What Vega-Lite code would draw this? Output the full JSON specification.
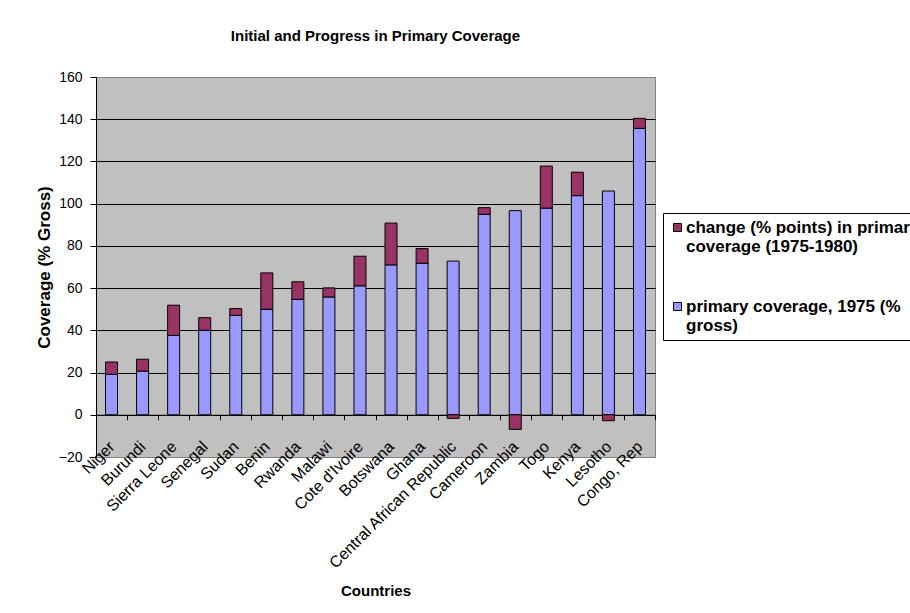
{
  "$schema": "https://vega.github.io/schema/vega-lite/v6.json",
  "autosize": {"type": "none"},
  "width": 559,
  "height": 380,
  "padding": {"left": 96, "top": 77, "right": 255, "bottom": 156},
  "background": "white",
  "title": {
    "text": "Initial and Progress in Primary Coverage",
    "font": "Liberation Sans",
    "fontSize": 15,
    "fontWeight": "bold",
    "color": "black",
    "anchor": "middle",
    "offset": 26
  },
  "data": {
    "values": [
      {"Country": "Niger", "Primary1975": 19.2, "Change": 5.8},
      {"Country": "Burundi", "Primary1975": 20.7, "Change": 5.6},
      {"Country": "Sierra Leone", "Primary1975": 37.6, "Change": 14.3},
      {"Country": "Senegal", "Primary1975": 40.0, "Change": 6.0},
      {"Country": "Sudan", "Primary1975": 47.1, "Change": 3.2},
      {"Country": "Benin", "Primary1975": 50.0, "Change": 17.2},
      {"Country": "Rwanda", "Primary1975": 54.7, "Change": 8.3},
      {"Country": "Malawi", "Primary1975": 55.8, "Change": 4.3},
      {"Country": "Cote d'Ivoire", "Primary1975": 61.1, "Change": 14.0},
      {"Country": "Botswana", "Primary1975": 71.0, "Change": 19.8},
      {"Country": "Ghana", "Primary1975": 71.8, "Change": 6.9},
      {"Country": "Central African Republic", "Primary1975": 72.8, "Change": -1.7},
      {"Country": "Cameroon", "Primary1975": 95.0, "Change": 3.1},
      {"Country": "Zambia", "Primary1975": 96.7, "Change": -6.9},
      {"Country": "Togo", "Primary1975": 97.9, "Change": 19.9},
      {"Country": "Kenya", "Primary1975": 103.8, "Change": 11.1},
      {"Country": "Lesotho", "Primary1975": 106.0, "Change": -2.8},
      {"Country": "Congo, Rep", "Primary1975": 135.7, "Change": 4.7}
    ]
  },
  "transform": [
    {"fold": ["Primary1975", "Change"], "as": ["Series", "Coverage"]}
  ],
  "mark": {"type": "bar", "size": 12, "stroke": "black", "strokeWidth": 1, "opacity": 1},
  "encoding": {
    "x": {
      "field": "Country",
      "type": "nominal",
      "sort": null,
      "scale": {"paddingInner": 0, "paddingOuter": 0},
      "axis": {
        "offset": -42.22,
        "domain": true,
        "domainColor": "black",
        "domainWidth": 1,
        "ticks": true,
        "tickBand": "extent",
        "tickColor": "black",
        "tickSize": 5,
        "grid": false,
        "labelAngle": -45,
        "labelAlign": "right",
        "labelBaseline": "middle",
        "labelPadding": 24,
        "labelFont": "Liberation Sans",
        "labelFontSize": 16,
        "labelColor": "black",
        "labelLimit": 190,
        "title": "Countries",
        "titleFont": "Liberation Sans",
        "titleFontSize": 15,
        "titleFontWeight": "bold",
        "titleColor": "black",
        "titlePadding": 12
      }
    },
    "y": {
      "field": "Coverage",
      "type": "quantitative",
      "stack": "zero",
      "scale": {"domain": [-20, 160], "nice": false, "zero": false},
      "axis": {
        "values": [-20, 0, 20, 40, 60, 80, 100, 120, 140, 160],
        "domain": true,
        "domainColor": "black",
        "ticks": true,
        "tickColor": "black",
        "tickSize": 6,
        "grid": true,
        "gridColor": {
          "condition": {"test": "datum.value == 160 || datum.value == -20", "value": "#808080"},
          "value": "black"
        },
        "gridWidth": 1,
        "labelFont": "Liberation Sans",
        "labelFontSize": 14,
        "labelColor": "black",
        "labelPadding": 8,
        "title": "Coverage (% Gross)",
        "titleFont": "Liberation Sans",
        "titleFontSize": 17,
        "titleFontWeight": "bold",
        "titleColor": "black",
        "titlePadding": 5
      }
    },
    "color": {
      "field": "Series",
      "type": "nominal",
      "scale": {"domain": ["Change", "Primary1975"], "range": ["#993366", "#9999FF"]},
      "legend": {
        "title": null,
        "orient": "none",
        "legendX": 567,
        "legendY": 136,
        "direction": "vertical",
        "padding": 6,
        "strokeColor": "black",
        "fillColor": "white",
        "symbolType": "square",
        "symbolSize": 64,
        "symbolStrokeColor": "black",
        "symbolStrokeWidth": 1,
        "symbolOpacity": 1,
        "labelFont": "Liberation Sans",
        "labelFontSize": 17,
        "labelFontWeight": "bold",
        "labelColor": "black",
        "labelLimit": 400,
        "labelOffset": 0,
        "rowPadding": 42,
        "labelExpr": "datum.value == 'Change' ? ['change (% points) in primary', 'coverage (1975-1980)'] : ['primary coverage, 1975 (%', 'gross)']"
      }
    },
    "order": {"field": "Series", "sort": "descending"}
  },
  "config": {
    "view": {"fill": "#C0C0C0", "stroke": "#808080", "strokeWidth": 1}
  }
}
